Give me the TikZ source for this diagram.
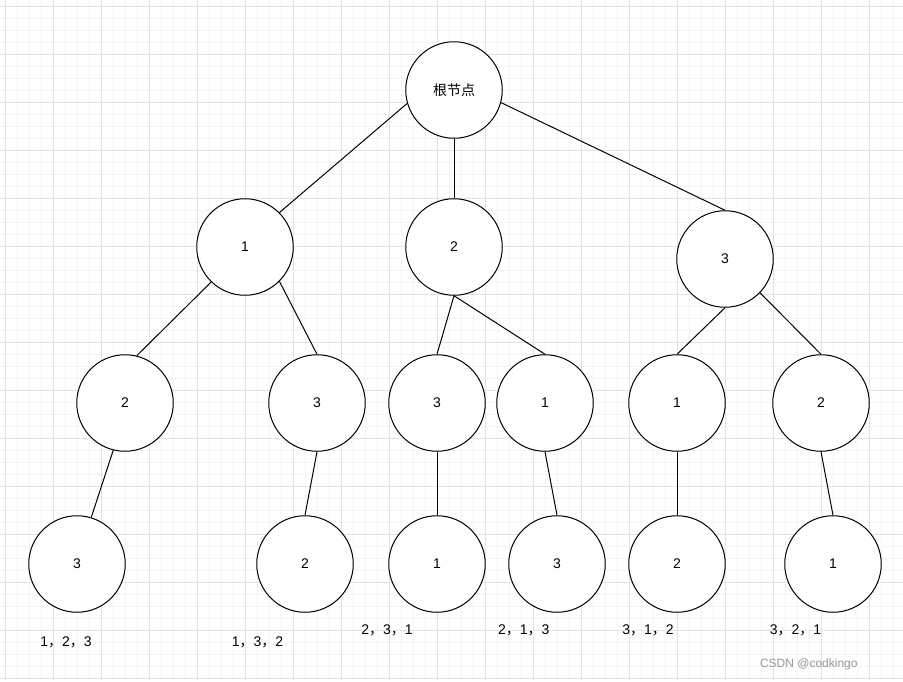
\documentclass[tikz,border=0pt]{standalone}
\usepackage{fontspec}
\setmainfont{Liberation Sans}
\newfontfamily\cjk{Noto Sans CJK SC}
\definecolor{majorgrid}{RGB}{226,226,226}
\definecolor{minorgrid}{RGB}{244,244,244}
\definecolor{wmark}{RGB}{150,150,150}
\newcommand{\cm}{{\cjk ，}}
\begin{document}
\begin{tikzpicture}[x=1pt,y=-1pt,
  tnode/.style={circle,draw=black,line width=1pt,fill=white,minimum size=96.5pt,inner sep=0pt,font=\fontsize{14}{16}\selectfont},
  edge/.style={line width=1pt,black},
  leaf/.style={font=\fontsize{14}{16}\selectfont,inner sep=0pt},
  mgrid/.style={draw=majorgrid,line width=0.8pt},
  ngrid/.style={draw=minorgrid,line width=0.8pt}]
\useasboundingbox (0,0) rectangle (903,681);
\fill[white] (0,0) rectangle (903,681);
% minor grid
\foreach \i in {0,...,76} {
  \draw[ngrid] ({-6.7+12*\i},0) -- ++(0,681);
}
\foreach \i in {0,...,57} {
  \draw[ngrid] (0,{-5.7+12*\i}) -- ++(903,0);
}
% major grid
\foreach \i in {0,...,18} {
  \draw[mgrid] ({5.3+48*\i},0) -- ++(0,681);
}
\foreach \i in {0,...,14} {
  \draw[mgrid] (0,{6.3+48*\i}) -- ++(903,0);
}
% nodes
\node[tnode] (root) at (454,90) {\cjk 根节点};
\node[tnode] (a1) at (245,247) {1};
\node[tnode] (a2) at (454,247) {2};
\node[tnode] (a3) at (725,259) {3};
\node[tnode] (b12) at (125,403) {2};
\node[tnode] (b13) at (317,403) {3};
\node[tnode] (b23) at (437,403) {3};
\node[tnode] (b21) at (545,403) {1};
\node[tnode] (b31) at (677,403) {1};
\node[tnode] (b32) at (821,403) {2};
\node[tnode] (c123) at (77,564) {3};
\node[tnode] (c132) at (305,564) {2};
\node[tnode] (c231) at (437,564) {1};
\node[tnode] (c213) at (557,564) {3};
\node[tnode] (c312) at (677,564) {2};
\node[tnode] (c321) at (833,564) {1};
% edges
\draw[edge] (root.196) -- (a1.45);
\draw[edge] (root.south) -- (a2.north);
\draw[edge] (root.-15) -- (a3.north);
\draw[edge] (a1.226) -- (b12.76);
\draw[edge] (a1.-45) -- (b13.north);
\draw[edge] (a2.south) -- (b23.north);
\draw[edge] (a2.south) -- (b21.north);
\draw[edge] (a3.south) -- (b31.north);
\draw[edge] (a3.-44) -- (b32.north);
\draw[edge] (b12.256) -- (c123.73);
\draw[edge] (b13.south) -- (c132.north);
\draw[edge] (b23.south) -- (c231.north);
\draw[edge] (b21.south) -- (c213.north);
\draw[edge] (b31.south) -- (c312.north);
\draw[edge] (b32.south) -- (c321.north);
% labels
\node[leaf] (l123) at (66,642) {1\cm2\cm3};
\node[leaf] (l132) at (257.5,642) {1\cm3\cm2};
\node[leaf] (l231) at (387,630) {2\cm3\cm1};
\node[leaf] (l213) at (523.7,630) {2\cm1\cm3};
\node[leaf] (l312) at (648,630) {3\cm1\cm2};
\node[leaf] (l321) at (795.5,630) {3\cm2\cm1};
\node[font=\fontsize{12}{14}\selectfont,text=wmark,inner sep=0pt] (wm) at (808.8,664) {CSDN @codkingo};
\end{tikzpicture}
\end{document}
